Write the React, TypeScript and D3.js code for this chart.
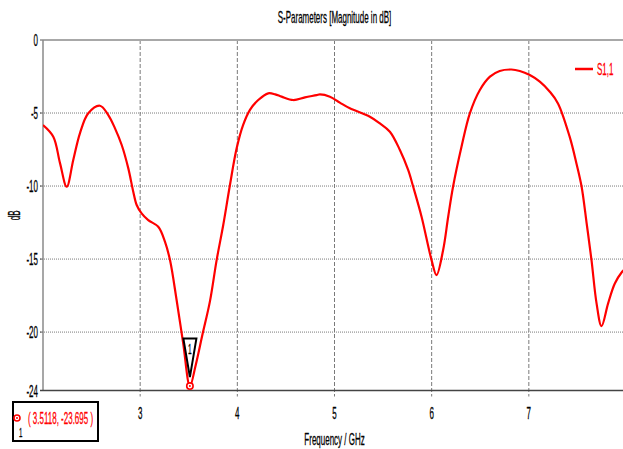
import React from 'react';
import * as d3 from 'd3';

// S1,1 trace (GHz / dB)
const freq = [
  2.0, 2.106, 2.175, 2.244, 2.312, 2.38, 2.466, 2.586, 2.672, 2.741, 2.81, 2.878, 2.929,
  2.964, 3.015, 3.083, 3.186, 3.255, 3.307, 3.375, 3.443, 3.512, 3.57, 3.64, 3.718, 3.787,
  3.855, 3.924, 3.993, 4.06, 4.13, 4.215, 4.318, 4.39, 4.456, 4.575, 4.696, 4.816, 4.85,
  4.953, 5.055, 5.158, 5.364, 5.467, 5.57, 5.673, 5.758, 5.81, 5.896, 5.999, 6.05, 6.118,
  6.17, 6.22, 6.307, 6.393, 6.496, 6.6, 6.7, 6.82, 6.907, 7.01, 7.113, 7.216, 7.3, 7.42,
  7.49, 7.542, 7.594, 7.645, 7.697, 7.748, 7.816, 7.885, 7.96, 8.0,
];
const s11 = [
  -5.82, -6.62, -8.43, -10.05, -8.2, -6.39, -5.02, -4.5, -5.14, -6.05, -7.19, -8.79, -10.39,
  -11.3, -11.87, -12.33, -12.79, -13.8, -15.07, -17.8, -20.77, -23.7, -22.3, -20.2, -17.9, -15.07,
  -12.67, -9.93, -7.42, -5.82, -4.79, -4.11, -3.65, -3.72, -3.88, -4.11, -3.93, -3.77, -3.72,
  -3.88, -4.29, -4.68, -5.25, -5.71, -6.28, -7.53, -8.9, -10.05, -12.1, -15.07, -16.1, -14.38,
  -12.1, -10.05, -7.31, -5.02, -3.42, -2.51, -2.12, -2.02, -2.12, -2.4, -2.85, -3.54, -4.34, -6.62,
  -8.45, -10.0, -12.5, -15.07, -18.03, -19.59, -18.03, -16.67, -15.87, -15.6,
];
const xTicks = [3, 4, 5, 6, 7];
const yTicks = [0, -5, -10, -15, -20, -24];
const markerFreq = 3.5118;
const markerVal = -23.695;
const seriesName = 'S1,1';

const W = 623;
const H = 449;
const FONT = '"Liberation Sans", Arial, sans-serif';
const SX = 0.47; // the reference text is very condensed

const T = ({ x, y, anchor = 'start', size = 17, fill = '#000', rotate = 0, children }: any) => (
  <text
    transform={`translate(${x},${y}) rotate(${rotate}) scale(${SX},1)`}
    textAnchor={anchor}
    fontFamily={FONT}
    fontSize={size}
    fill={fill}
    stroke={fill}
    strokeWidth={0.3}
  >
    {children}
  </text>
);

export default function App() {
  const x = d3.scaleLinear().domain([2, 8]).range([43, 626]);
  const y = d3.scaleLinear().domain([-24, 0]).range([390.5, 40]);
  const pts = freq.map((f, i) => [f, s11[i]] as [number, number]);
  const line = d3
    .line<[number, number]>()
    .x((d) => x(d[0]))
    .y((d) => y(d[1]))
    .curve(d3.curveCatmullRom.alpha(0.5));

  const mx = x(markerFreq);
  const my = y(markerVal);
  const [x0, x1] = x.range();
  const [yb, yt] = y.range();

  return (
    <div style={{ position: 'absolute', left: 0, top: 0 }}>
      <svg width={W} height={H} style={{ display: 'block', background: '#fff' }}>
        <defs>
          <clipPath id="plot">
            <rect x={x0} y={yt - 2} width={x1 - x0} height={yb - yt + 4} />
          </clipPath>
        </defs>

        {/* grid */}
        {yTicks.slice(1, -1).map((t) => (
          <line key={'h' + t} x1={40} x2={x1} y1={y(t)} y2={y(t)} stroke="#7a7a7a" strokeWidth={1} strokeDasharray="1,1" />
        ))}
        {xTicks.map((t) => (
          <line key={'v' + t} x1={x(t)} x2={x(t)} y1={yt} y2={yb + 6} stroke="#7a7a7a" strokeWidth={1} strokeDasharray="4,2" />
        ))}
        {yTicks.map((t) => (
          <line key={'yt' + t} x1={40} x2={x0} y1={y(t)} y2={y(t)} stroke="#555" strokeWidth={1} />
        ))}

        {/* frame */}
        <line x1={x0 - 1} x2={W} y1={yt} y2={yt} stroke="#a8a8a8" strokeWidth={2} />
        <line x1={x0} x2={x0} y1={yt} y2={yb} stroke="#8a8a8a" strokeWidth={1.5} />
        <line x1={40} x2={W} y1={yb} y2={yb} stroke="#444" strokeWidth={1.5} />

        {/* tick labels */}
        {yTicks.map((t) => (
          <T key={'yl' + t} x={38} y={y(t) + 6} anchor="end">
            {t}
          </T>
        ))}
        {xTicks.map((t) => (
          <T key={'xl' + t} x={x(t)} y={418.5} anchor="middle">
            {t}
          </T>
        ))}

        {/* titles */}
        <T x={(x0 + x1) / 2} y={23} anchor="middle">S-Parameters [Magnitude in dB]</T>
        <T x={(x0 + x1) / 2} y={445} anchor="middle">Frequency / GHz</T>
        <T x={20} y={(yt + yb) / 2} anchor="middle" rotate={-90}>dB</T>

        {/* curve */}
        <path d={line(pts) || ''} fill="none" stroke="#ff0000" strokeWidth={2.2} clipPath="url(#plot)" />

        {/* legend */}
        <line x1={575} x2={593} y1={69} y2={69} stroke="#ff0000" strokeWidth={2.5} />
        <T x={597} y={75} fill="#ff0000">{seriesName}</T>

        {/* marker on curve */}
        <path
          d={`M${mx - 6.5},${my - 47.5} L${mx + 6.5},${my - 47.5} L${mx},${my - 9} Z`}
          fill="#fff"
          stroke="#000"
          strokeWidth={2}
        />
        <T x={mx} y={my - 32} anchor="middle" size={14}>1</T>
        <circle cx={mx} cy={my} r={3.2} fill="#fff" stroke="#ff0000" strokeWidth={1.6} />
        <circle cx={mx} cy={my} r={1} fill="#ff0000" />

        {/* marker readout */}
        <rect x={13} y={402} width={85} height={39} fill="#fff" stroke="#000" strokeWidth={2} />
        <circle cx={17} cy={418} r={3} fill="#fff" stroke="#ff0000" strokeWidth={1.6} />
        <circle cx={17} cy={418} r={1} fill="#ff0000" />
        <T x={19} y={437} size={13}>1</T>
        <T x={28} y={424} fill="#ff0000">
          {`( ${markerFreq}, ${markerVal} )`}
        </T>
      </svg>
    </div>
  );
}
